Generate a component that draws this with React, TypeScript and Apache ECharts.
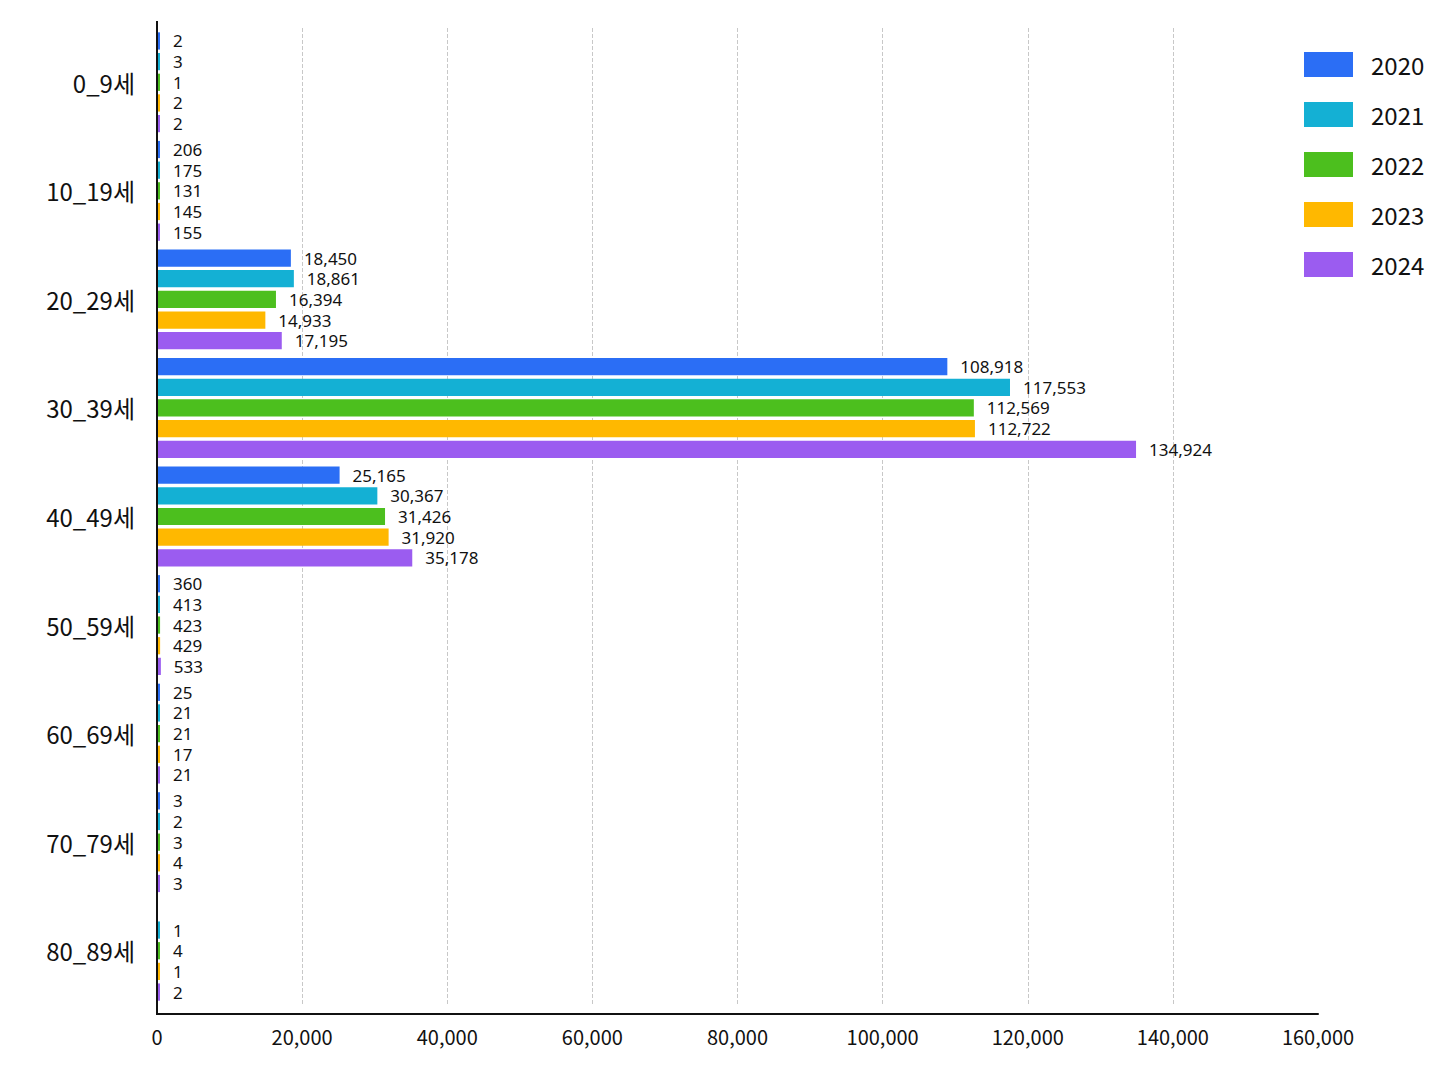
import React, { useEffect, useRef } from "react";
import * as echarts from "echarts";

const categories = ["0_9세", "10_19세", "20_29세", "30_39세", "40_49세", "50_59세", "60_69세", "70_79세", "80_89세"];
const years = ["2020", "2021", "2022", "2023", "2024"];
const values2020 = [2, 206, 18450, 108918, 25165, 360, 25, 3, null];
const values2021 = [3, 175, 18861, 117553, 30367, 413, 21, 2, 1];
const values2022 = [1, 131, 16394, 112569, 31426, 423, 21, 3, 4];
const values2023 = [2, 145, 14933, 112722, 31920, 429, 17, 4, 1];
const values2024 = [2, 155, 17195, 134924, 35178, 533, 21, 3, 2];
const seriesValues = [values2020, values2021, values2022, values2023, values2024];
const colors = ["#2b6ef5", "#14b0d4", "#4cbf1e", "#ffb800", "#9b5cf0"];

export default function App() {
  const ref = useRef<HTMLDivElement>(null);
  useEffect(() => {
    if (!ref.current) return;
    const chart = echarts.init(ref.current, null, { renderer: "svg" });
    chart.setOption({
      animation: false,
      backgroundColor: "#ffffff",
      legend: {
        orient: "vertical",
        left: 1304,
        top: 52,
        padding: 0,
        itemWidth: 49,
        itemHeight: 25,
        itemGap: 25,
        icon: "rect",
        data: years,
        textStyle: { fontSize: 24, color: "#111", fontFamily: "Noto Sans CJK KR", padding: [0, 0, 0, 13] },
      },
      grid: { left: 157, right: 130, top: 28, bottom: 81, containLabel: false },
      graphic: [
        {
          type: "line",
          shape: { x1: 157, y1: 21, x2: 157, y2: 1015 },
          style: { stroke: "#111", lineWidth: 2 },
          z: 10,
        },
      ],
      xAxis: {
        type: "value",
        min: 0,
        max: 160000,
        interval: 20000,
        offset: 9,
        axisLine: { show: true, lineStyle: { color: "#111", width: 2 } },
        axisTick: { show: false },
        axisLabel: {
          fontSize: 20,
          color: "#111",
          fontFamily: "Noto Sans CJK KR",
          margin: 12,
          formatter: (v: number) => v.toLocaleString("en-US"),
        },
        splitLine: { show: true, showMinLine: false, showMaxLine: false, lineStyle: { color: "#c8c8c8", type: "dashed", width: 1 } },
      },
      yAxis: {
        type: "category",
        data: categories,
        inverse: true,
        axisLine: { show: false },
        axisTick: { show: false },
        axisLabel: { fontSize: 24, color: "#111", fontFamily: "Noto Sans CJK KR", margin: 22 },
      },
      series: years.map((y, i) => ({
        name: y,
        type: "bar",
        data: seriesValues[i],
        barCategoryGap: "8%",
        barGap: "20%",
        barMinHeight: 3,
        itemStyle: { color: colors[i] },
        label: {
          show: true,
          position: "right",
          distance: 13,
          fontSize: 17,
          lineHeight: 17,
          color: "#111",
          fontFamily: "Noto Sans",
          formatter: (p: any) => (p.value == null ? "" : Number(p.value).toLocaleString("en-US")),
        },
      })),
    });
    return () => chart.dispose();
  }, []);
  return <div ref={ref} style={{ position: "absolute", left: 0, top: 0, width: 1448, height: 1086 }} />;
}
